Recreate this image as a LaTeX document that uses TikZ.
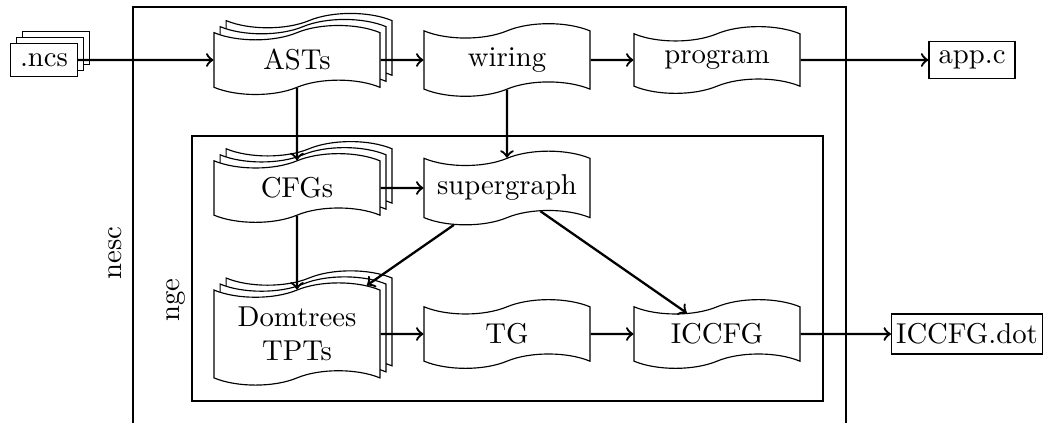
\documentclass[tikz,border=0pt]{standalone}
\usetikzlibrary{shapes.symbols,shadows}
\begin{document}
\begin{tikzpicture}[x=0.3484pt,y=-0.3484pt,
  doc/.style={tape, draw, fill=white, minimum width=57.8pt, minimum height=20pt, align=center},
  stackdoc/.style={doc,
    copy shadow={shadow xshift=4.2pt, shadow yshift=4.2pt, draw=black, fill=white},
    copy shadow={shadow xshift=2.1pt, shadow yshift=2.1pt, draw=black, fill=white}},
  file/.style={rectangle, draw, fill=white},
  stackfile/.style={file,
    copy shadow={shadow xshift=4.2pt, shadow yshift=4.2pt, draw=black, fill=white},
    copy shadow={shadow xshift=2.1pt, shadow yshift=2.1pt, draw=black, fill=white}},
  flow/.style={->, thick},
  boxlabel/.style={rotate=90}
]
\useasboundingbox (0,0) rectangle (1046,423);
\draw (133,7) rectangle (846,440);
\draw (192,136) rectangle (823,401);
\node[boxlabel] (nesc) at (115,253) {nesc};
\node[boxlabel] (nge) at (176,300) {nge};

\node[stackfile] (ncs) at (44,60) {.ncs};
\node[stackdoc] (asts) at (297,60) {ASTs};
\node[doc] (wiring) at (507,60) {wiring};
\node[doc] (program) at (717,60) {program};
\node[file] (appc) at (972,60) {app.c};

\node[stackdoc] (cfgs) at (297,188) {CFGs};
\node[doc] (super) at (507,188) {supergraph};

\node[stackdoc] (dom) at (297,334) {Domtrees\\TPTs};
\node[doc] (tg) at (507,334) {TG};
\node[doc] (iccfg) at (717,334) {ICCFG};
\node[file, inner xsep=1.6pt] (dot) at (967,334) {ICCFG.dot};

\draw[flow] (ncs) -- (asts);
\draw[flow] (asts) -- (wiring);
\draw[flow] (wiring) -- (program);
\draw[flow] (program) -- (appc);
\draw[flow] (asts) -- (cfgs);
\draw[flow] (wiring) -- (super);
\draw[flow] (cfgs) -- (super);
\draw[flow] (cfgs) -- (dom);
\draw[flow] (super) -- (dom);
\draw[flow] (super) -- (iccfg);
\draw[flow] (dom) -- (tg);
\draw[flow] (tg) -- (iccfg);
\draw[flow] (iccfg) -- (dot);
\end{tikzpicture}
\end{document}
